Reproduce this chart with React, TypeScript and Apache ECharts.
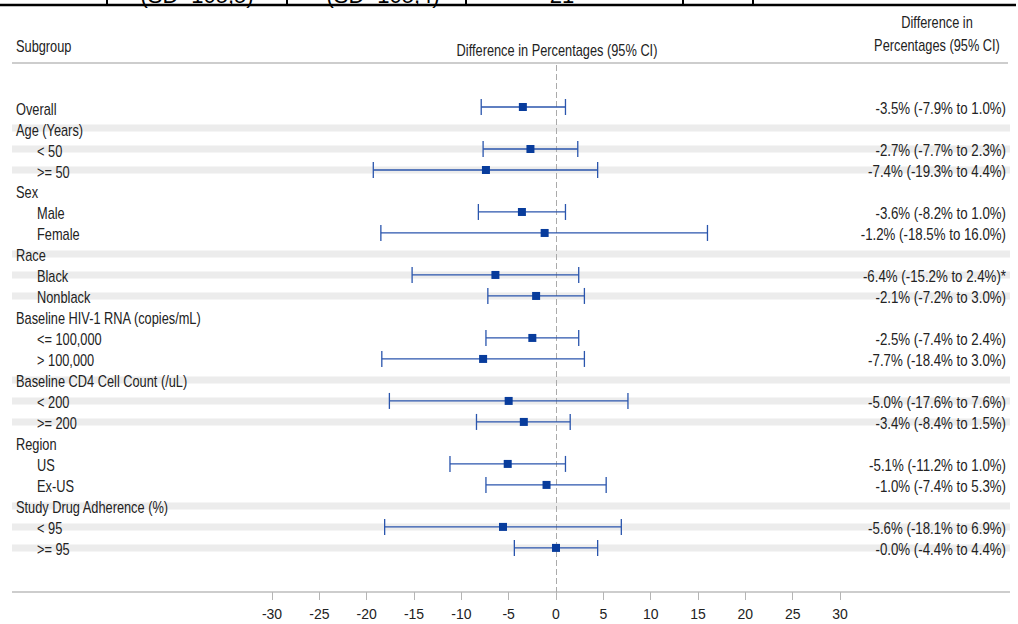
import React, { useEffect, useRef } from "react";
import * as echarts from "echarts";

const subgroupLabels = [
  "Overall",
  "Age (Years)",
  "< 50",
  ">= 50",
  "Sex",
  "Male",
  "Female",
  "Race",
  "Black",
  "Nonblack",
  "Baseline HIV-1 RNA (copies/mL)",
  "<= 100,000",
  "> 100,000",
  "Baseline CD4 Cell Count (/uL)",
  "< 200",
  ">= 200",
  "Region",
  "US",
  "Ex-US",
  "Study Drug Adherence (%)",
  "< 95",
  ">= 95",
];
const indentLevel = [0, 0, 1, 1, 0, 1, 1, 0, 1, 1, 0, 1, 1, 0, 1, 1, 0, 1, 1, 0, 1, 1];
const estimates = [-3.5, null, -2.7, -7.4, null, -3.6, -1.2, null, -6.4, -2.1, null, -2.5, -7.7, null, -5.0, -3.4, null, -5.1, -1.0, null, -5.6, -0.0];
const lowerCI = [-7.9, null, -7.7, -19.3, null, -8.2, -18.5, null, -15.2, -7.2, null, -7.4, -18.4, null, -17.6, -8.4, null, -11.2, -7.4, null, -18.1, -4.4];
const upperCI = [1.0, null, 2.3, 4.4, null, 1.0, 16.0, null, 2.4, 3.0, null, 2.4, 3.0, null, 7.6, 1.5, null, 1.0, 5.3, null, 6.9, 4.4];
const ciLabels = [
  "-3.5% (-7.9% to 1.0%)",
  "",
  "-2.7% (-7.7% to 2.3%)",
  "-7.4% (-19.3% to 4.4%)",
  "",
  "-3.6% (-8.2% to 1.0%)",
  "-1.2% (-18.5% to 16.0%)",
  "",
  "-6.4% (-15.2% to 2.4%)*",
  "-2.1% (-7.2% to 3.0%)",
  "",
  "-2.5% (-7.4% to 2.4%)",
  "-7.7% (-18.4% to 3.0%)",
  "",
  "-5.0% (-17.6% to 7.6%)",
  "-3.4% (-8.4% to 1.5%)",
  "",
  "-5.1% (-11.2% to 1.0%)",
  "-1.0% (-7.4% to 5.3%)",
  "",
  "-5.6% (-18.1% to 6.9%)",
  "-0.0% (-4.4% to 4.4%)",
];
const shadedRows = [1, 2, 3, 7, 8, 9, 13, 14, 15, 19, 20, 21];
const xTicks = { min: -30, max: 30, interval: 5 };

const FONT = "'Liberation Sans', Arial, sans-serif";
const NARROW = 0.8;
const TEXT_COLOR = "#222";
const LINE_COLOR = "#2a55ad";
const MARKER_COLOR = "#083c9c";

const txt = (x: number, y: number, text: string, align: string, scaleX = NARROW) => ({
  type: "text",
  x,
  y,
  scaleX,
  style: { text, font: `16px ${FONT}`, fill: TEXT_COLOR, textAlign: align, textVerticalAlign: "middle" },
});

export default function App() {
  const ref = useRef<HTMLDivElement>(null);

  useEffect(() => {
    if (!ref.current) return;
    const chart = echarts.init(ref.current, null, { renderer: "svg" });

    const rowData = subgroupLabels.map((_, i) => [i, estimates[i], lowerCI[i], upperCI[i]]);
    const bandData = shadedRows.map((i) => [i]);

    const topFont = `22px ${FONT}`;
    const topText = (x: number, text: string) => ({
      type: "text",
      x,
      y: 6,
      style: { text, font: topFont, fill: "#000", textAlign: "center", textVerticalAlign: "bottom" },
    });
    const option: any = {
      animation: false,
      grid: { left: 272, right: 1018 - 840, top: 65, bottom: 624 - 592 },
      xAxis: {
        type: "value",
        min: xTicks.min,
        max: xTicks.max,
        interval: xTicks.interval,
        axisLine: { show: false, onZero: false },
        splitLine: { show: false },
        axisTick: { show: true, length: 8, lineStyle: { color: "#b5b5b5", width: 1 } },
        axisLabel: { color: TEXT_COLOR, fontSize: 14, fontFamily: FONT, margin: 15 },
      },
      yAxis: {
        type: "value",
        inverse: true,
        min: -2,
        max: 23.1,
        show: false,
      },
      graphic: [
        // cropped table above
        topText(197, "(SD=105,5)"),
        topText(383, "(SD=105,4)"),
        topText(562, "21"),
        { type: "line", shape: { x1: 0, y1: 5, x2: 1016, y2: 5 }, style: { stroke: "#000", lineWidth: 2.5 } },
        ...[107, 287, 466, 683, 753].map((x) => ({
          type: "line",
          shape: { x1: x, y1: -2, x2: x, y2: 5 },
          style: { stroke: "#000", lineWidth: 2 },
        })),
        // headers
        txt(16, 46, "Subgroup", "left"),
        txt(557, 50, "Difference in Percentages (95% CI)", "center"),
        txt(937, 22, "Difference in", "center"),
        txt(937, 45, "Percentages (95% CI)", "center"),
        { type: "line", shape: { x1: 12, y1: 63, x2: 1008, y2: 63 }, style: { stroke: "#bdbdbd", lineWidth: 1.5 } },
        // x-axis baseline across full width
        { type: "line", shape: { x1: 12, y1: 592, x2: 1010, y2: 592 }, style: { stroke: "#bdbdbd", lineWidth: 1.5 } },
      ],
      series: [
        {
          type: "custom",
          name: "bands",
          clip: false,
          z: 1,
          data: bandData,
          renderItem: (params: any, api: any) => {
            const y = api.coord([0, api.value(0)])[1];
            return {
              type: "rect",
              shape: { x: 12, y: y - 3.5, width: 998, height: 7 },
              style: { fill: "#ececec" },
            };
          },
        },
        {
          type: "custom",
          name: "labels",
          clip: false,
          z: 3,
          data: rowData,
          renderItem: (params: any, api: any) => {
            const i = params.dataIndex;
            const y = api.coord([0, i])[1] + 2;
            return {
              type: "group",
              children: [
                txt(indentLevel[i] ? 37 : 16, y, subgroupLabels[i], "left"),
                txt(1006, y, ciLabels[i], "right", 0.83),
              ],
            };
          },
        },
        {
          type: "custom",
          name: "forest",
          clip: false,
          z: 5,
          data: rowData,
          encode: { x: [1, 2, 3], y: 0 },
          renderItem: (params: any, api: any) => {
            const est = api.value(1);
            if (est === null || est === undefined || isNaN(est)) return { type: "group", children: [] };
            const i = api.value(0);
            const [xe, y] = api.coord([est, i]);
            const xl = api.coord([api.value(2), i])[0];
            const xh = api.coord([api.value(3), i])[0];
            const cap = 8;
            const lineStyle = { stroke: LINE_COLOR, lineWidth: 1.3 };
            return {
              type: "group",
              children: [
                { type: "line", shape: { x1: xl, y1: y, x2: xh, y2: y }, style: lineStyle },
                { type: "line", shape: { x1: xl, y1: y - cap, x2: xl, y2: y + cap }, style: lineStyle },
                { type: "line", shape: { x1: xh, y1: y - cap, x2: xh, y2: y + cap }, style: lineStyle },
                { type: "rect", shape: { x: xe - 4, y: y - 4, width: 8, height: 8 }, style: { fill: MARKER_COLOR } },
              ],
            };
          },
          markLine: {
            silent: true,
            symbol: "none",
            label: { show: false },
            lineStyle: { color: "#aaaaaa", type: [6, 3], width: 1 },
            data: [{ xAxis: 0 }],
            z: 2,
          },
        },
      ],
    };

    chart.setOption(option);
    return () => chart.dispose();
  }, []);

  return (
    <div
      ref={ref}
      style={{ position: "absolute", left: 0, top: 0, width: 1018, height: 624, background: "#fff" }}
    />
  );
}
